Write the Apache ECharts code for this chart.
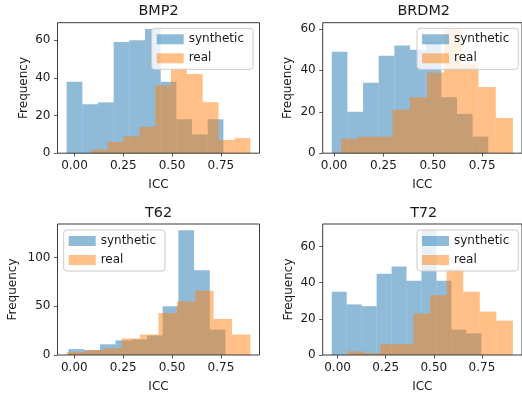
<!DOCTYPE html>
<html><head><meta charset="utf-8">
<script src="https://cdn.jsdelivr.net/npm/echarts@6/dist/echarts.min.js"></script>
<style>html,body{margin:0;padding:0;background:#fff}#c{width:522px;height:398px}</style>
</head><body><div id="c"></div>
<script>
// ---- data ----
const titles = ['BMP2', 'BRDM2', 'T62', 'T72'];
const seriesNames = ['synthetic', 'real'];
const xTickValues = [0, 0.25, 0.5, 0.75];
const yTickValues = [[0, 20, 40, 60], [0, 20, 40, 60], [0, 50, 100], [0, 20, 40, 60]];

// histogram: [first edge, last edge] of the 10 bins, and bin counts
const bmp2SynthRange = [-0.04, 0.763];
const bmp2Synth = [38, 26, 27, 59, 60, 66, 38, 18, 10, 18];
const bmp2RealRange = [0.088, 0.901];
const bmp2Real = [2, 6, 9, 14, 36, 45, 42, 27, 7, 8];

const brdm2SynthRange = [-0.012, 0.781];
const brdm2Synth = [49, 20, 34, 47, 52, 50, 54, 27, 19, 8];
const brdm2RealRange = [0.035, 0.906];
const brdm2Real = [7, 8, 8, 21, 27, 39, 60, 43, 32, 17];

const t62SynthRange = [-0.030, 0.773];
const t62Synth = [6, 5, 11, 15, 16, 20, 50, 128, 87, 26];
const t62RealRange = [-0.039, 0.900];
const t62Real = [3, 5, 7, 17, 21, 43, 55, 66, 37, 21];

const t72SynthRange = [-0.030, 0.747];
const t72Synth = [35, 28, 27, 45, 49, 41, 69, 41, 14, 12];
const t72RealRange = [0.050, 0.911];
const t72Real = [2, 1, 6, 6, 23, 33, 48, 35, 24, 19];

const panels = [
  { synth: [bmp2SynthRange, bmp2Synth], real: [bmp2RealRange, bmp2Real] },
  { synth: [brdm2SynthRange, brdm2Synth], real: [brdm2RealRange, brdm2Real] },
  { synth: [t62SynthRange, t62Synth], real: [t62RealRange, t62Real] },
  { synth: [t72SynthRange, t72Synth], real: [t72RealRange, t72Real] }
];

// ---- layout ----
const grids = [
  { left: 57.5, top: 22.7, width: 202, height: 130.5 },
  { left: 322.7, top: 22.7, width: 202, height: 130.5 },
  { left: 57.5, top: 224, width: 202, height: 131 },
  { left: 322.7, top: 224, width: 202, height: 131 }
];
const yNameGaps = [28, 29, 39, 28];
const legendPos = [[151.7, 28.3], [417, 28.3], [63.7, 230], [417, 230]];
const FONT = 'DejaVu Sans';
const TXT = '#1a1a1a';
const colors = ['rgba(31,119,180,0.5)', 'rgba(255,127,14,0.5)'];

function bins(range, counts) {
  const w = (range[1] - range[0]) / counts.length;
  return counts.map((c, i) => [range[0] + i * w, range[0] + (i + 1) * w, c]);
}
function renderItem(params, api) {
  const a = api.coord([api.value(0), 0]);
  const b = api.coord([api.value(1), api.value(2)]);
  return { type: 'rect', shape: { x: a[0], y: b[1], width: b[0] - a[0], height: a[1] - b[1] },
           style: { fill: api.visual('color') } };
}

const option = {
  animation: false,
  backgroundColor: '#fff',
  grid: [], xAxis: [], yAxis: [], series: [], legend: [], graphic: []
};

panels.forEach((p, i) => {
  const g = grids[i];
  const lo = Math.min(p.synth[0][0], p.real[0][0]);
  const hi = Math.max(p.synth[0][1], p.real[0][1]);
  const m = (hi - lo) * 0.05;
  const ymax = Math.max(...p.synth[1], ...p.real[1]) * 1.05;
  option.grid.push(Object.assign({ show: true, z: 10, borderColor: '#3a3a3a', borderWidth: 1, backgroundColor: 'transparent' }, g));
  option.xAxis.push({
    type: 'value', gridIndex: i, min: lo - m, max: hi + m, z: 10,
    name: 'ICC', nameLocation: 'middle', nameGap: 26,
    nameTextStyle: { fontFamily: FONT, fontSize: 12, color: TXT },
    splitLine: { show: false }, axisLine: { show: false, onZero: false },
    axisTick: { show: true, inside: false, length: 3.5, customValues: xTickValues, lineStyle: { color: '#333', width: 0.8 } },
    axisLabel: { customValues: xTickValues, margin: 7, fontFamily: FONT, fontSize: 12, color: TXT,
                 formatter: v => Number(v).toFixed(2) }
  });
  option.yAxis.push({
    type: 'value', gridIndex: i, min: 0, max: ymax, z: 10,
    name: 'Frequency', nameLocation: 'middle', nameGap: yNameGaps[i],
    nameTextStyle: { fontFamily: FONT, fontSize: 12, color: TXT },
    splitLine: { show: false }, axisLine: { show: false, onZero: false },
    axisTick: { show: true, inside: false, length: 3.5, customValues: yTickValues[i], lineStyle: { color: '#333', width: 0.8 } },
    axisLabel: { customValues: yTickValues[i], margin: 7, fontFamily: FONT, fontSize: 12, color: TXT }
  });
  [p.synth, p.real].forEach((s, k) => {
    option.series.push({
      type: 'custom', name: seriesNames[k], xAxisIndex: i, yAxisIndex: i,
      renderItem: renderItem, encode: { x: [0, 1], y: 2 },
      itemStyle: { color: colors[k] },
      data: bins(s[0], s[1])
    });
  });
  option.legend.push({
    data: seriesNames, orient: 'vertical', left: legendPos[i][0], top: legendPos[i][1],
    icon: 'rect', itemWidth: 27, itemHeight: 10, itemGap: 5, padding: [4, 9, 4, 5],
    backgroundColor: 'rgba(255,255,255,0.8)', borderColor: '#cccccc', borderWidth: 1, borderRadius: 3,
    textStyle: { fontFamily: FONT, fontSize: 12, color: TXT, lineHeight: 14 },
    selectedMode: false, z: 20
  });
  option.graphic.push({
    type: 'text', x: g.left + g.width / 2, y: g.top - 11, z: 20,
    style: { text: titles[i], fontFamily: FONT, fontSize: 14.4, fill: TXT, textAlign: 'center', textVerticalAlign: 'middle' }
  });
});

const chart = echarts.init(document.getElementById('c'), null, { renderer: 'canvas' });
chart.setOption(option);
</script></body></html>
